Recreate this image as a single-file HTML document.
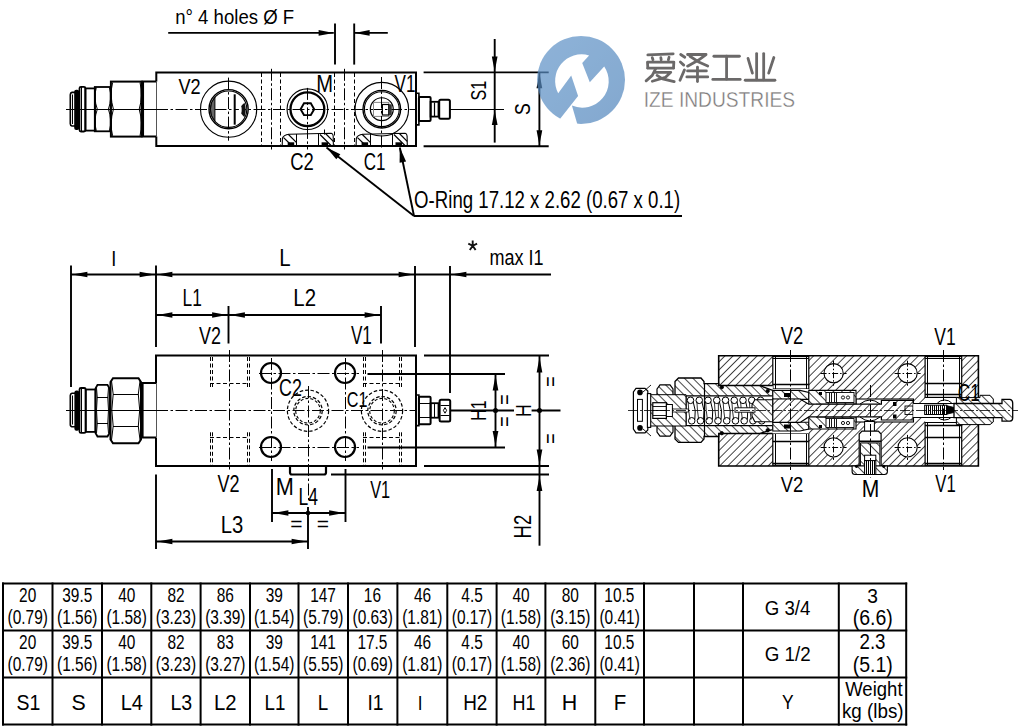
<!DOCTYPE html><html><head><meta charset="utf-8"><style>html,body{margin:0;padding:0;background:#fff;width:1022px;height:727px;overflow:hidden}svg{display:block;font-family:"Liberation Sans",sans-serif}</style></head><body><svg width="1022" height="727" viewBox="0 0 1022 727" font-family="Liberation Sans, sans-serif"><defs>
<pattern id="hatchA" patternUnits="userSpaceOnUse" width="5.7" height="5.7" patternTransform="rotate(45)">
<rect width="5.7" height="5.7" fill="#fff"/><line x1="0" y1="0" x2="0" y2="5.7" stroke="#000" stroke-width="1.45"/></pattern>
<pattern id="hatchB" patternUnits="userSpaceOnUse" width="6" height="6" patternTransform="rotate(-45)">
<rect width="6" height="6" fill="#fff"/><line x1="0" y1="0" x2="0" y2="6" stroke="#000" stroke-width="1.45"/></pattern>
<pattern id="hatchV" patternUnits="userSpaceOnUse" width="2" height="2">
<rect width="2" height="2" fill="#fff"/><line x1="0.5" y1="0" x2="0.5" y2="2" stroke="#000" stroke-width="1"/></pattern>
<linearGradient id="lg" x1="0" y1="0" x2="1" y2="1"><stop offset="0" stop-color="#5f93c8"/><stop offset="1" stop-color="#4f84bb"/></linearGradient>
</defs><rect width="1022" height="727" fill="#fff"/><path d="M156.3,81.6 L156.3,72.4 L416,72.4 L416,146 L156.3,146 L156.3,136.6" stroke="#000" stroke-width="2" fill="none" />
<line x1="156.5" y1="81.6" x2="156.5" y2="136.6" stroke="#555" stroke-width="1" stroke-linecap="butt"/>
<line x1="66" y1="109.5" x2="156" y2="109.5" stroke="#000" stroke-width="1" stroke-linecap="butt"/>
<line x1="156" y1="109.5" x2="416" y2="109.5" stroke="#000" stroke-width="1" stroke-dasharray="12 2.5 2.5 2.5" stroke-linecap="butt"/>
<line x1="450" y1="109.5" x2="504" y2="109.5" stroke="#000" stroke-width="1" stroke-linecap="butt"/>
<path d="M141.5,81.6 L156.3,81.6 M141.5,136.6 L156.3,136.6" stroke="#000" stroke-width="2" fill="none" />
<line x1="142.8" y1="81.6" x2="142.8" y2="136.6" stroke="#000" stroke-width="2.5" stroke-linecap="butt"/>
<rect x="110.9" y="81.6" width="30.60" height="55.00" stroke="#000" stroke-width="2" fill="none"/>
<path d="M112.6,82.5 Q109.39999999999999,95.5 113.39999999999999,109.2 Q109.39999999999999,123 112.6,135.8" stroke="#000" stroke-width="1" fill="none" />
<path d="M140,82.5 Q143.2,95.5 139.2,109.2 Q143.2,123 140,135.8" stroke="#000" stroke-width="1" fill="none" />
<rect x="94.8" y="87" width="15.90" height="44.30" stroke="#000" stroke-width="1.8" fill="none"/>
<path d="M96.3,87.5 Q93.3,98 97.3,109.2 Q93.3,120.5 96.3,130.8" stroke="#000" stroke-width="1" fill="none" />
<path d="M109.4,87.5 Q112.4,98 108.4,109.2 Q112.4,120.5 109.4,130.8" stroke="#000" stroke-width="1" fill="none" />
<rect x="85.4" y="88.4" width="9.60" height="42.20" stroke="#000" stroke-width="1.8" fill="none"/>
<rect x="79.5" y="86.8" width="5.90" height="44.70" stroke="#000" stroke-width="1.8" fill="none" rx="1.5"/>
<path d="M79.5,92.4 L72,92.4 Q70.3,92.8 70.3,94.8 L70.3,123.8 Q70.3,125.8 72,126 L79.5,126" stroke="#000" stroke-width="1.6" fill="none" />
<rect x="74.2" y="89.8" width="5" height="40.2" rx="2" fill="#000"/>
<line x1="72.5" y1="94.5" x2="72.5" y2="124" stroke="#000" stroke-width="1" stroke-linecap="butt"/>
<line x1="81.5" y1="87" x2="81.5" y2="131.3" stroke="#000" stroke-width="1" stroke-linecap="butt"/>
<path d="M416,93.3 L418.9,93.3 L418.9,124.9 L416,124.9" stroke="#000" stroke-width="1.6" fill="none" />
<rect x="418.9" y="97" width="11.70" height="24.10" stroke="#000" stroke-width="2" fill="none" rx="1"/>
<rect x="430.6" y="101.8" width="7.90" height="14.80" stroke="#000" stroke-width="1.8" fill="none"/>
<line x1="434.5" y1="102.5" x2="434.5" y2="116" stroke="#000" stroke-width="1.2" stroke-linecap="butt"/>
<rect x="439.2" y="99.8" width="10.70" height="18.90" stroke="#000" stroke-width="2" fill="none" rx="1.5"/>
<circle cx="228.6" cy="109.2" r="28.1" stroke="#000" stroke-width="1.1" fill="none"/>
<circle cx="228.6" cy="109.2" r="19.6" stroke="#000" stroke-width="1.4" fill="none"/>
<circle cx="228.6" cy="109.2" r="18.2" stroke="#000" stroke-width="1.1" fill="none"/>
<line x1="234.7" y1="94.3" x2="234.7" y2="124.7" stroke="#000" stroke-width="2" stroke-linecap="butt"/>
<path d="M214.9,97.3 A18.2 18.2 0 0 0 214.9,121.2 Z" stroke="#000" stroke-width="1" fill="#666" />
<path d="M244.5,102.8 Q235.5,109.5 244.5,117.2 Q247,109.5 244.5,102.8 Z" stroke="#000" stroke-width="0" fill="#111" />
<ellipse cx="240.3" cy="109.8" rx="1.4" ry="4" fill="#fff"/>
<line x1="228.5" y1="77.6" x2="228.5" y2="140.7" stroke="#000" stroke-width="1" stroke-dasharray="12 2.5 2.5 2.5" stroke-linecap="butt"/>
<circle cx="307.4" cy="109.2" r="20.35" stroke="#000" stroke-width="1.1" fill="none"/>
<circle cx="307.4" cy="109.2" r="16.9" stroke="#000" stroke-width="2.3" fill="none"/>
<polygon points="314.20,109.20 310.80,115.09 304.00,115.09 300.60,109.20 304.00,103.31 310.80,103.31" stroke="#000" stroke-width="1.9" fill="none"/>
<line x1="307.5" y1="87.9" x2="307.5" y2="149.5" stroke="#000" stroke-width="1" stroke-dasharray="12 2.5 2.5 2.5" stroke-linecap="butt"/>
<circle cx="381.8" cy="109.2" r="26.8" stroke="#000" stroke-width="1.1" fill="none"/>
<circle cx="381.8" cy="109.2" r="18.8" stroke="#000" stroke-width="1.4" fill="none"/>
<circle cx="381.8" cy="109.2" r="17.4" stroke="#000" stroke-width="1.1" fill="none"/>
<circle cx="381.8" cy="109.2" r="11.45" stroke="#000" stroke-width="1.2" fill="none"/>
<rect x="373.5" y="102.4" width="15.3" height="14" fill="none" stroke="#888" stroke-width="1"/>
<rect x="382.4" y="104.5" width="6.40" height="10.50" stroke="#000" stroke-width="1.2" fill="none"/>
<rect x="388.8" y="104.3" width="3" height="10.9" fill="#333"/>
<line x1="381.5" y1="77" x2="381.5" y2="150" stroke="#000" stroke-width="1" stroke-dasharray="12 2.5 2.5 2.5" stroke-linecap="butt"/>
<line x1="261.5" y1="73" x2="261.5" y2="145.5" stroke="#000" stroke-width="1" stroke-dasharray="4 2.5" stroke-linecap="butt"/>
<line x1="280.5" y1="73" x2="280.5" y2="145.5" stroke="#000" stroke-width="1" stroke-dasharray="4 2.5" stroke-linecap="butt"/>
<line x1="334.5" y1="73" x2="334.5" y2="145.5" stroke="#000" stroke-width="1" stroke-dasharray="4 2.5" stroke-linecap="butt"/>
<line x1="354.5" y1="73" x2="354.5" y2="145.5" stroke="#000" stroke-width="1" stroke-dasharray="4 2.5" stroke-linecap="butt"/>
<line x1="271.5" y1="68.8" x2="271.5" y2="149.5" stroke="#000" stroke-width="1" stroke-dasharray="12 2.5 2.5 2.5" stroke-linecap="butt"/>
<line x1="344.5" y1="68.8" x2="344.5" y2="149.5" stroke="#000" stroke-width="1" stroke-dasharray="12 2.5 2.5 2.5" stroke-linecap="butt"/>
<path d="M282.2,146 L282.4,138.5 Q283.5,134.6 289,134.2 L331.3,133.2 Q333,133.5 333.2,136 L333.4,146" stroke="#000" stroke-width="1.1" fill="none" />
<line x1="296.5" y1="134" x2="296.5" y2="146" stroke="#000" stroke-width="1" stroke-linecap="butt"/>
<line x1="318.5" y1="133.6" x2="318.5" y2="146" stroke="#000" stroke-width="1" stroke-linecap="butt"/>
<line x1="283.6" y1="137.6" x2="291.5" y2="145.3" stroke="#000" stroke-width="1.2" stroke-linecap="butt"/>
<line x1="288.2" y1="134.3" x2="296.6" y2="142.6" stroke="#000" stroke-width="1.2" stroke-linecap="butt"/>
<line x1="320" y1="134.5" x2="331" y2="145.5" stroke="#000" stroke-width="1.2" stroke-linecap="butt"/>
<line x1="325.5" y1="133.5" x2="333.3" y2="141.3" stroke="#000" stroke-width="1.2" stroke-linecap="butt"/>
<rect x="287.7" y="142.3" width="6.5" height="3.2" fill="#000"/>
<rect x="321.6" y="142.3" width="6.5" height="3.2" fill="#000"/>
<path d="M356.1,146 L356.29999999999995,138.5 Q357.4,134.6 362.9,134.2 L405.20000000000005,133.2 Q406.9,133.5 407.1,136 L407.29999999999995,146" stroke="#000" stroke-width="1.1" fill="none" />
<line x1="370.5" y1="134" x2="370.5" y2="146" stroke="#000" stroke-width="1" stroke-linecap="butt"/>
<line x1="392.5" y1="133.6" x2="392.5" y2="146" stroke="#000" stroke-width="1" stroke-linecap="butt"/>
<line x1="357.5" y1="137.6" x2="365.4" y2="145.3" stroke="#000" stroke-width="1.2" stroke-linecap="butt"/>
<line x1="362.1" y1="134.3" x2="370.5" y2="142.6" stroke="#000" stroke-width="1.2" stroke-linecap="butt"/>
<line x1="393.9" y1="134.5" x2="404.9" y2="145.5" stroke="#000" stroke-width="1.2" stroke-linecap="butt"/>
<line x1="399.4" y1="133.5" x2="407.20000000000005" y2="141.3" stroke="#000" stroke-width="1.2" stroke-linecap="butt"/>
<rect x="361.6" y="142.3" width="6.5" height="3.2" fill="#000"/>
<rect x="395.5" y="142.3" width="6.5" height="3.2" fill="#000"/>
<line x1="324.5" y1="129.5" x2="324.5" y2="134.6" stroke="#000" stroke-width="1" stroke-linecap="butt"/>
<line x1="168.2" y1="32.9" x2="333.8" y2="32.9" stroke="#000" stroke-width="1.9" stroke-linecap="butt"/>
<polygon points="333.60,32.90 318.60,35.75 318.60,30.05" fill="#000"/>
<line x1="335" y1="23.5" x2="335" y2="64.6" stroke="#000" stroke-width="1.9" stroke-linecap="butt"/>
<line x1="354.2" y1="23.5" x2="354.2" y2="64.6" stroke="#000" stroke-width="1.9" stroke-linecap="butt"/>
<line x1="354.2" y1="32.9" x2="387.8" y2="32.9" stroke="#000" stroke-width="1.9" stroke-linecap="butt"/>
<polygon points="354.60,32.90 369.60,30.05 369.60,35.75" fill="#000"/>
<line x1="423.6" y1="72.4" x2="548.7" y2="72.4" stroke="#000" stroke-width="1.9" stroke-linecap="butt"/>
<line x1="423.6" y1="146.2" x2="548.7" y2="146.2" stroke="#000" stroke-width="1.9" stroke-linecap="butt"/>
<line x1="494.7" y1="39" x2="494.7" y2="142.6" stroke="#000" stroke-width="1.9" stroke-linecap="butt"/>
<polygon points="494.70,71.50 491.85,56.50 497.55,56.50" fill="#000"/>
<polygon points="494.70,110.10 497.55,125.10 491.85,125.10" fill="#000"/>
<line x1="539.4" y1="72.4" x2="539.4" y2="146.2" stroke="#000" stroke-width="1.9" stroke-linecap="butt"/>
<polygon points="539.40,73.30 542.25,88.30 536.55,88.30" fill="#000"/>
<polygon points="539.40,145.30 536.55,130.30 542.25,130.30" fill="#000"/>
<line x1="326.5" y1="147.5" x2="414" y2="216" stroke="#000" stroke-width="1.9" stroke-linecap="butt"/>
<polygon points="326.50,147.50 340.35,154.15 336.28,159.34" fill="#000"/>
<line x1="399.8" y1="147.5" x2="414" y2="216" stroke="#000" stroke-width="1.9" stroke-linecap="butt"/>
<polygon points="399.80,147.50 406.08,161.52 399.61,162.86" fill="#000"/>
<line x1="414" y1="216" x2="682" y2="216" stroke="#000" stroke-width="1.9" stroke-linecap="butt"/>
<text x="175.17" y="23.50" font-size="21.11" textLength="118.98" lengthAdjust="spacingAndGlyphs" fill="#000" >n° 4 holes Ø F</text>
<text x="178.52" y="94.40" font-size="22.63" textLength="22.19" lengthAdjust="spacingAndGlyphs" fill="#000" >V2</text>
<text x="316.34" y="91.50" font-size="23.40" textLength="16.81" lengthAdjust="spacingAndGlyphs" fill="#000" >M</text>
<text x="394.52" y="91.50" font-size="23.40" textLength="20.91" lengthAdjust="spacingAndGlyphs" fill="#000" >V1</text>
<text x="290.26" y="170.20" font-size="24.35" textLength="23.56" lengthAdjust="spacingAndGlyphs" fill="#000" >C2</text>
<text x="363.64" y="170.20" font-size="24.35" textLength="21.69" lengthAdjust="spacingAndGlyphs" fill="#000" >C1</text>
<text x="414.12" y="207.50" font-size="24.15" textLength="266.04" lengthAdjust="spacingAndGlyphs" fill="#000" >O-Ring 17.12 x 2.62 (0.67 x 0.1)</text>
<g transform="translate(477.75,90.65) rotate(-90)"><text x="-9.78" y="7.75" font-size="22.50" textLength="19.61" lengthAdjust="spacingAndGlyphs" fill="#000" >S1</text></g>
<g transform="translate(522.8,109.2) rotate(-90)"><text x="-5.88" y="7.40" font-size="21.50" textLength="11.76" lengthAdjust="spacingAndGlyphs" fill="#000" >S</text></g>
<path d="M156,383 L156,355.5 L416,355.5 L416,466 L156,466 L156,437.5" stroke="#000" stroke-width="2" fill="none" />
<line x1="156.5" y1="383" x2="156.5" y2="437.5" stroke="#555" stroke-width="1" stroke-linecap="butt"/>
<line x1="66" y1="410.5" x2="156" y2="410.5" stroke="#000" stroke-width="1" stroke-linecap="butt"/>
<line x1="156" y1="410.5" x2="416" y2="410.5" stroke="#000" stroke-width="1" stroke-dasharray="12 2.5 2.5 2.5" stroke-linecap="butt"/>
<line x1="450" y1="410.5" x2="514" y2="410.5" stroke="#000" stroke-width="2" stroke-linecap="butt"/>
<line x1="531.6" y1="410.5" x2="560.5" y2="410.5" stroke="#000" stroke-width="2" stroke-linecap="butt"/>
<path d="M141,383 L156,383 M141,437.5 L156,437.5" stroke="#000" stroke-width="2" fill="none" />
<line x1="142.5" y1="383" x2="142.5" y2="437.5" stroke="#000" stroke-width="2.2" stroke-linecap="butt"/>
<path d="M110.5,382 L113,378.2 L138.5,378.2 L141,382 L141,439.5 L138.5,443.2 L113,443.2 L110.5,439.5 Z" stroke="#000" stroke-width="2" fill="none" />
<line x1="113" y1="394.5" x2="138.5" y2="394.5" stroke="#000" stroke-width="1" stroke-linecap="butt"/>
<line x1="113" y1="426.5" x2="138.5" y2="426.5" stroke="#000" stroke-width="1" stroke-linecap="butt"/>
<path d="M111.5,381 L113.2,394.2 L111.8,410 L113.2,426.2 L111.5,440 M140,381 L138.3,394.2 L139.7,410 L138.3,426.2 L140,440" stroke="#000" stroke-width="1" fill="none" />
<path d="M95.5,388.5 L97.5,384.9 L107.5,384.9 L109.5,388.5 L109.5,433 L107.5,436.5 L97.5,436.5 L95.5,433 Z" stroke="#000" stroke-width="1.8" fill="none" />
<line x1="97" y1="397.5" x2="108" y2="397.5" stroke="#000" stroke-width="1" stroke-linecap="butt"/>
<line x1="97" y1="423.5" x2="108" y2="423.5" stroke="#000" stroke-width="1" stroke-linecap="butt"/>
<path d="M96.5,388 L97.3,397.3 L96.5,410 L97.3,423.6 L96.5,433 M108.5,388 L107.7,397.3 L108.5,410 L107.7,423.6 L108.5,433" stroke="#000" stroke-width="0.9" fill="none" />
<rect x="85.7" y="389.5" width="9.80" height="42.40" stroke="#000" stroke-width="1.8" fill="none"/>
<rect x="79.5" y="388" width="6.20" height="44.90" stroke="#000" stroke-width="1.8" fill="none" rx="1.5"/>
<path d="M79.5,393.2 L72,393.2 Q70.3,393.6 70.3,395.6 L70.3,424.6 Q70.3,426.6 72,426.7 L79.5,426.7" stroke="#000" stroke-width="1.6" fill="none" />
<rect x="74.4" y="390.6" width="4.8" height="40.2" rx="2" fill="#000"/>
<line x1="72.5" y1="395.5" x2="72.5" y2="424.5" stroke="#000" stroke-width="1" stroke-linecap="butt"/>
<line x1="81.5" y1="388" x2="81.5" y2="433" stroke="#000" stroke-width="1" stroke-linecap="butt"/>
<path d="M416,395 L418.9,395 L418.9,425.6 L416,425.6" stroke="#000" stroke-width="1.6" fill="none" />
<rect x="418.9" y="396.7" width="11.70" height="27.50" stroke="#000" stroke-width="2" fill="none" rx="1"/>
<line x1="419.5" y1="403.5" x2="430" y2="403.5" stroke="#000" stroke-width="1" stroke-linecap="butt"/>
<line x1="419.5" y1="417.5" x2="430" y2="417.5" stroke="#000" stroke-width="1" stroke-linecap="butt"/>
<rect x="430.6" y="403.2" width="7.90" height="14.50" stroke="#000" stroke-width="1.8" fill="none"/>
<line x1="434.5" y1="404" x2="434.5" y2="417" stroke="#000" stroke-width="1" stroke-linecap="butt"/>
<rect x="439.6" y="399.8" width="10.60" height="21.70" stroke="#000" stroke-width="2" fill="none" rx="1.5"/>
<line x1="440.5" y1="405.5" x2="449.5" y2="405.5" stroke="#000" stroke-width="1" stroke-linecap="butt"/>
<line x1="440.5" y1="415.5" x2="449.5" y2="415.5" stroke="#000" stroke-width="1" stroke-linecap="butt"/>
<path d="M445,407.6 L446.6,410.4 L445,413.2 L443.4,410.4 Z" stroke="#000" stroke-width="1" fill="none" />
<line x1="210.5" y1="357" x2="210.5" y2="388.6" stroke="#000" stroke-width="1" stroke-dasharray="4 2.5" stroke-linecap="butt"/>
<line x1="210.5" y1="432.3" x2="210.5" y2="465" stroke="#000" stroke-width="1" stroke-dasharray="4 2.5" stroke-linecap="butt"/>
<line x1="212.5" y1="357" x2="212.5" y2="388.6" stroke="#000" stroke-width="1" stroke-dasharray="4 2.5" stroke-linecap="butt"/>
<line x1="212.5" y1="432.3" x2="212.5" y2="465" stroke="#000" stroke-width="1" stroke-dasharray="4 2.5" stroke-linecap="butt"/>
<line x1="247.5" y1="357" x2="247.5" y2="388.6" stroke="#000" stroke-width="1" stroke-dasharray="4 2.5" stroke-linecap="butt"/>
<line x1="247.5" y1="432.3" x2="247.5" y2="465" stroke="#000" stroke-width="1" stroke-dasharray="4 2.5" stroke-linecap="butt"/>
<line x1="249.5" y1="357" x2="249.5" y2="388.6" stroke="#000" stroke-width="1" stroke-dasharray="4 2.5" stroke-linecap="butt"/>
<line x1="249.5" y1="432.3" x2="249.5" y2="465" stroke="#000" stroke-width="1" stroke-dasharray="4 2.5" stroke-linecap="butt"/>
<line x1="210" y1="383.5" x2="249" y2="383.5" stroke="#000" stroke-width="1.2" stroke-dasharray="4 2.5" stroke-linecap="butt"/>
<line x1="210" y1="437.5" x2="249" y2="437.5" stroke="#000" stroke-width="1.2" stroke-dasharray="4 2.5" stroke-linecap="butt"/>
<line x1="229.5" y1="350" x2="229.5" y2="469.5" stroke="#000" stroke-width="1" stroke-dasharray="12 2.5 2.5 2.5" stroke-linecap="butt"/>
<line x1="363.5" y1="357" x2="363.5" y2="388.6" stroke="#000" stroke-width="1" stroke-dasharray="4 2.5" stroke-linecap="butt"/>
<line x1="363.5" y1="432.3" x2="363.5" y2="465" stroke="#000" stroke-width="1" stroke-dasharray="4 2.5" stroke-linecap="butt"/>
<line x1="365.5" y1="357" x2="365.5" y2="388.6" stroke="#000" stroke-width="1" stroke-dasharray="4 2.5" stroke-linecap="butt"/>
<line x1="365.5" y1="432.3" x2="365.5" y2="465" stroke="#000" stroke-width="1" stroke-dasharray="4 2.5" stroke-linecap="butt"/>
<line x1="399.5" y1="357" x2="399.5" y2="388.6" stroke="#000" stroke-width="1" stroke-dasharray="4 2.5" stroke-linecap="butt"/>
<line x1="399.5" y1="432.3" x2="399.5" y2="465" stroke="#000" stroke-width="1" stroke-dasharray="4 2.5" stroke-linecap="butt"/>
<line x1="401.5" y1="357" x2="401.5" y2="388.6" stroke="#000" stroke-width="1" stroke-dasharray="4 2.5" stroke-linecap="butt"/>
<line x1="401.5" y1="432.3" x2="401.5" y2="465" stroke="#000" stroke-width="1" stroke-dasharray="4 2.5" stroke-linecap="butt"/>
<line x1="363" y1="383.5" x2="401" y2="383.5" stroke="#000" stroke-width="1.2" stroke-dasharray="4 2.5" stroke-linecap="butt"/>
<line x1="363" y1="437.5" x2="401" y2="437.5" stroke="#000" stroke-width="1.2" stroke-dasharray="4 2.5" stroke-linecap="butt"/>
<line x1="382.5" y1="350" x2="382.5" y2="469.5" stroke="#000" stroke-width="1" stroke-dasharray="12 2.5 2.5 2.5" stroke-linecap="butt"/>
<circle cx="271" cy="373" r="10" stroke="#000" stroke-width="2.2" fill="none"/>
<circle cx="271" cy="447" r="10" stroke="#000" stroke-width="2.2" fill="none"/>
<circle cx="345" cy="373" r="10" stroke="#000" stroke-width="2.2" fill="none"/>
<circle cx="345" cy="447" r="10" stroke="#000" stroke-width="2.2" fill="none"/>
<line x1="259" y1="373.5" x2="359" y2="373.5" stroke="#000" stroke-width="1" stroke-dasharray="12 2.5 2.5 2.5" stroke-linecap="butt"/>
<line x1="259" y1="447.5" x2="359" y2="447.5" stroke="#000" stroke-width="1" stroke-dasharray="12 2.5 2.5 2.5" stroke-linecap="butt"/>
<line x1="271.5" y1="358" x2="271.5" y2="461" stroke="#000" stroke-width="1" stroke-dasharray="12 2.5 2.5 2.5" stroke-linecap="butt"/>
<line x1="345.5" y1="358" x2="345.5" y2="461" stroke="#000" stroke-width="1" stroke-dasharray="12 2.5 2.5 2.5" stroke-linecap="butt"/>
<circle cx="308" cy="410.7" r="20.6" stroke="#000" stroke-width="1.2" fill="none" stroke-dasharray="3.5 2"/>
<circle cx="308" cy="410.7" r="14.2" stroke="#000" stroke-width="1.2" fill="none" stroke-dasharray="3.5 2"/>
<circle cx="308" cy="410.7" r="12.3" stroke="#000" stroke-width="1.1" fill="none" stroke-dasharray="3 2"/>
<circle cx="382" cy="410.7" r="20.6" stroke="#000" stroke-width="1.2" fill="none" stroke-dasharray="3.5 2"/>
<circle cx="382" cy="410.7" r="14.2" stroke="#000" stroke-width="1.2" fill="none" stroke-dasharray="3.5 2"/>
<circle cx="382" cy="410.7" r="12.3" stroke="#000" stroke-width="1.1" fill="none" stroke-dasharray="3 2"/>
<line x1="308.5" y1="386" x2="308.5" y2="500" stroke="#000" stroke-width="1" stroke-dasharray="12 2.5 2.5 2.5" stroke-linecap="butt"/>
<path d="M290,466 L290,472.5 Q290,474.5 292,474.5 L324,474.5 Q326,474.5 326,472.5 L326,466" stroke="#000" stroke-width="2.2" fill="none" />
<line x1="71" y1="265.5" x2="71" y2="387" stroke="#000" stroke-width="1.9" stroke-linecap="butt"/>
<line x1="156" y1="265.5" x2="156" y2="347" stroke="#000" stroke-width="1.9" stroke-linecap="butt"/>
<line x1="156" y1="474.5" x2="156" y2="549" stroke="#000" stroke-width="1.9" stroke-linecap="butt"/>
<line x1="71" y1="274.5" x2="156" y2="274.5" stroke="#000" stroke-width="1.9" stroke-linecap="butt"/>
<polygon points="72.40,274.50 87.40,271.65 87.40,277.35" fill="#000"/>
<polygon points="154.60,274.50 139.60,277.35 139.60,271.65" fill="#000"/>
<line x1="156" y1="274.5" x2="415" y2="274.5" stroke="#000" stroke-width="1.9" stroke-linecap="butt"/>
<polygon points="157.40,274.50 172.40,271.65 172.40,277.35" fill="#000"/>
<polygon points="413.60,274.50 398.60,277.35 398.60,271.65" fill="#000"/>
<line x1="415" y1="266" x2="415" y2="347" stroke="#000" stroke-width="1.9" stroke-linecap="butt"/>
<line x1="450" y1="266" x2="450" y2="393" stroke="#000" stroke-width="1.9" stroke-linecap="butt"/>
<line x1="415" y1="274.5" x2="551" y2="274.5" stroke="#000" stroke-width="1.9" stroke-linecap="butt"/>
<polygon points="451.40,274.50 466.40,271.65 466.40,277.35" fill="#000"/>
<line x1="156" y1="315" x2="381" y2="315" stroke="#000" stroke-width="1.9" stroke-linecap="butt"/>
<polygon points="157.40,315.00 172.40,312.15 172.40,317.85" fill="#000"/>
<polygon points="227.10,315.00 212.10,317.85 212.10,312.15" fill="#000"/>
<polygon points="229.90,315.00 244.90,312.15 244.90,317.85" fill="#000"/>
<polygon points="379.60,315.00 364.60,317.85 364.60,312.15" fill="#000"/>
<line x1="228.5" y1="306" x2="228.5" y2="343.5" stroke="#000" stroke-width="1.9" stroke-linecap="butt"/>
<line x1="381" y1="306" x2="381" y2="343.5" stroke="#000" stroke-width="1.9" stroke-linecap="butt"/>
<line x1="424" y1="355.5" x2="549" y2="355.5" stroke="#000" stroke-width="1.9" stroke-linecap="butt"/>
<line x1="424" y1="466" x2="549" y2="466" stroke="#000" stroke-width="1.9" stroke-linecap="butt"/>
<line x1="331" y1="474.5" x2="549" y2="474.5" stroke="#000" stroke-width="1.9" stroke-linecap="butt"/>
<line x1="367.5" y1="374" x2="505" y2="374" stroke="#000" stroke-width="1.9" stroke-linecap="butt"/>
<line x1="367.5" y1="447.5" x2="505" y2="447.5" stroke="#000" stroke-width="1.9" stroke-linecap="butt"/>
<line x1="495.5" y1="374" x2="495.5" y2="447.5" stroke="#000" stroke-width="1.9" stroke-linecap="butt"/>
<polygon points="495.50,375.40 498.35,390.40 492.65,390.40" fill="#000"/>
<polygon points="495.50,446.10 492.65,431.10 498.35,431.10" fill="#000"/>
<circle cx="495.5" cy="410.5" r="2.5" stroke="#000" stroke-width="0" fill="#000"/>
<line x1="539.5" y1="356" x2="539.5" y2="466" stroke="#000" stroke-width="1.9" stroke-linecap="butt"/>
<polygon points="539.50,357.40 542.35,372.40 536.65,372.40" fill="#000"/>
<polygon points="539.50,464.60 536.65,449.60 542.35,449.60" fill="#000"/>
<circle cx="539.5" cy="410.5" r="2.5" stroke="#000" stroke-width="0" fill="#000"/>
<line x1="539.5" y1="466" x2="539.5" y2="545.7" stroke="#000" stroke-width="1.9" stroke-linecap="butt"/>
<polygon points="539.50,475.90 542.35,490.90 536.65,490.90" fill="#000"/>
<line x1="272" y1="469" x2="272" y2="522" stroke="#000" stroke-width="1.9" stroke-linecap="butt"/>
<line x1="345.5" y1="469" x2="345.5" y2="522" stroke="#000" stroke-width="1.9" stroke-linecap="butt"/>
<line x1="272" y1="513" x2="345.5" y2="513" stroke="#000" stroke-width="1.9" stroke-linecap="butt"/>
<polygon points="273.40,513.00 288.40,510.15 288.40,515.85" fill="#000"/>
<polygon points="344.10,513.00 329.10,515.85 329.10,510.15" fill="#000"/>
<circle cx="308" cy="513" r="2.3" stroke="#000" stroke-width="0" fill="#000"/>
<line x1="308" y1="507" x2="308" y2="549" stroke="#000" stroke-width="1.9" stroke-linecap="butt"/>
<line x1="156" y1="541.5" x2="308" y2="541.5" stroke="#000" stroke-width="1.9" stroke-linecap="butt"/>
<polygon points="157.40,541.50 172.40,538.65 172.40,544.35" fill="#000"/>
<polygon points="306.60,541.50 291.60,544.35 291.60,538.65" fill="#000"/>
<text x="111.16" y="266.00" font-size="21.50" textLength="5.08" lengthAdjust="spacingAndGlyphs" fill="#000" >I</text>
<text x="279.33" y="266.00" font-size="24.13" textLength="11.35" lengthAdjust="spacingAndGlyphs" fill="#000" >L</text>
<path d="M472.7,240.6 L472.7,245.8 M468.3,243.6 L472.7,245.8 L477.1,243.6 M469.8,250 L472.7,245.8 L475.6,250" stroke="#111" stroke-width="1.9" fill="none" />
<text x="489.50" y="265.20" font-size="22.97" textLength="54.08" lengthAdjust="spacingAndGlyphs" fill="#000" >max I1</text>
<text x="182.58" y="306.00" font-size="24.13" textLength="19.27" lengthAdjust="spacingAndGlyphs" fill="#000" >L1</text>
<text x="293.33" y="306.00" font-size="23.77" textLength="22.70" lengthAdjust="spacingAndGlyphs" fill="#000" >L2</text>
<text x="198.92" y="344.00" font-size="24.49" textLength="21.98" lengthAdjust="spacingAndGlyphs" fill="#000" >V2</text>
<text x="350.92" y="344.00" font-size="24.86" textLength="20.91" lengthAdjust="spacingAndGlyphs" fill="#000" >V1</text>
<text x="279.09" y="396.00" font-size="23.77" textLength="22.80" lengthAdjust="spacingAndGlyphs" fill="#000" >C2</text>
<text x="346.78" y="406.90" font-size="22.77" textLength="20.71" lengthAdjust="spacingAndGlyphs" fill="#000" >C1</text>
<text x="217.42" y="492.30" font-size="23.92" textLength="22.09" lengthAdjust="spacingAndGlyphs" fill="#000" >V2</text>
<text x="275.72" y="494.50" font-size="24.13" textLength="18.06" lengthAdjust="spacingAndGlyphs" fill="#000" >M</text>
<text x="298.57" y="504.50" font-size="24.13" textLength="19.45" lengthAdjust="spacingAndGlyphs" fill="#000" >L4</text>
<text x="370.23" y="498.10" font-size="24.42" textLength="19.97" lengthAdjust="spacingAndGlyphs" fill="#000" >V1</text>
<text x="220.84" y="533.00" font-size="23.77" textLength="22.55" lengthAdjust="spacingAndGlyphs" fill="#000" >L3</text>
<text x="290.17" y="531.00" font-size="21.00" textLength="12.26" lengthAdjust="spacingAndGlyphs" fill="#000" >=</text>
<text x="316.67" y="531.00" font-size="21.00" textLength="12.26" lengthAdjust="spacingAndGlyphs" fill="#000" >=</text>
<g transform="translate(478,410.2) rotate(-90)"><text x="-10.46" y="7.74" font-size="22.50" textLength="20.39" lengthAdjust="spacingAndGlyphs" fill="#000" >H1</text></g>
<g transform="translate(505.4,399.6) rotate(-90)"><text x="-5.14" y="7.08" font-size="21.50" textLength="10.30" lengthAdjust="spacingAndGlyphs" fill="#000" >=</text></g>
<g transform="translate(505.4,421.5) rotate(-90)"><text x="-5.14" y="7.08" font-size="21.50" textLength="10.30" lengthAdjust="spacingAndGlyphs" fill="#000" >=</text></g>
<g transform="translate(523.2,410.6) rotate(-90)"><text x="-6.37" y="7.40" font-size="21.50" textLength="12.73" lengthAdjust="spacingAndGlyphs" fill="#000" >H</text></g>
<g transform="translate(551,381.5) rotate(-90)"><text x="-5.14" y="7.08" font-size="21.50" textLength="10.30" lengthAdjust="spacingAndGlyphs" fill="#000" >=</text></g>
<g transform="translate(551,438.5) rotate(-90)"><text x="-5.14" y="7.08" font-size="21.50" textLength="10.30" lengthAdjust="spacingAndGlyphs" fill="#000" >=</text></g>
<g transform="translate(522.7,526.3) rotate(-90)"><text x="-12.12" y="8.03" font-size="23.00" textLength="23.65" lengthAdjust="spacingAndGlyphs" fill="#000" >H2</text></g>
<line x1="3" y1="582.5" x2="3" y2="725.6" stroke="#000" stroke-width="2" stroke-linecap="butt"/>
<line x1="52.5" y1="582.5" x2="52.5" y2="725.6" stroke="#000" stroke-width="2" stroke-linecap="butt"/>
<line x1="102" y1="582.5" x2="102" y2="725.6" stroke="#000" stroke-width="2" stroke-linecap="butt"/>
<line x1="151.3" y1="582.5" x2="151.3" y2="725.6" stroke="#000" stroke-width="2" stroke-linecap="butt"/>
<line x1="200.6" y1="582.5" x2="200.6" y2="725.6" stroke="#000" stroke-width="2" stroke-linecap="butt"/>
<line x1="250" y1="582.5" x2="250" y2="725.6" stroke="#000" stroke-width="2" stroke-linecap="butt"/>
<line x1="298.5" y1="582.5" x2="298.5" y2="725.6" stroke="#000" stroke-width="2" stroke-linecap="butt"/>
<line x1="348" y1="582.5" x2="348" y2="725.6" stroke="#000" stroke-width="2" stroke-linecap="butt"/>
<line x1="397.4" y1="582.5" x2="397.4" y2="725.6" stroke="#000" stroke-width="2" stroke-linecap="butt"/>
<line x1="447.3" y1="582.5" x2="447.3" y2="725.6" stroke="#000" stroke-width="2" stroke-linecap="butt"/>
<line x1="496.6" y1="582.5" x2="496.6" y2="725.6" stroke="#000" stroke-width="2" stroke-linecap="butt"/>
<line x1="545.4" y1="582.5" x2="545.4" y2="725.6" stroke="#000" stroke-width="2" stroke-linecap="butt"/>
<line x1="595.3" y1="582.5" x2="595.3" y2="725.6" stroke="#000" stroke-width="2" stroke-linecap="butt"/>
<line x1="644" y1="582.5" x2="644" y2="725.6" stroke="#000" stroke-width="2" stroke-linecap="butt"/>
<line x1="694" y1="582.5" x2="694" y2="725.6" stroke="#000" stroke-width="2" stroke-linecap="butt"/>
<line x1="743" y1="582.5" x2="743" y2="725.6" stroke="#000" stroke-width="2" stroke-linecap="butt"/>
<line x1="838.8" y1="582.5" x2="838.8" y2="725.6" stroke="#000" stroke-width="2" stroke-linecap="butt"/>
<line x1="906.2" y1="582.5" x2="906.2" y2="725.6" stroke="#000" stroke-width="2" stroke-linecap="butt"/>
<line x1="2" y1="583.5" x2="907.2" y2="583.5" stroke="#000" stroke-width="2" stroke-linecap="butt"/>
<line x1="2" y1="630.4" x2="907.2" y2="630.4" stroke="#000" stroke-width="2" stroke-linecap="butt"/>
<line x1="2" y1="677.4" x2="907.2" y2="677.4" stroke="#000" stroke-width="2" stroke-linecap="butt"/>
<line x1="2" y1="724.6" x2="907.2" y2="724.6" stroke="#000" stroke-width="2" stroke-linecap="butt"/>
<text x="19.08" y="601.80" font-size="19.30" textLength="17.17" lengthAdjust="spacingAndGlyphs" fill="#000" >20</text>
<text x="7.58" y="623.70" font-size="19.30" textLength="40.33" lengthAdjust="spacingAndGlyphs" fill="#000" >(0.79)</text>
<text x="19.08" y="648.60" font-size="19.30" textLength="17.17" lengthAdjust="spacingAndGlyphs" fill="#000" >20</text>
<text x="7.58" y="670.50" font-size="19.30" textLength="40.33" lengthAdjust="spacingAndGlyphs" fill="#000" >(0.79)</text>
<text x="62.25" y="601.80" font-size="19.30" textLength="30.05" lengthAdjust="spacingAndGlyphs" fill="#000" >39.5</text>
<text x="57.08" y="623.70" font-size="19.30" textLength="40.33" lengthAdjust="spacingAndGlyphs" fill="#000" >(1.56)</text>
<text x="62.25" y="648.60" font-size="19.30" textLength="30.05" lengthAdjust="spacingAndGlyphs" fill="#000" >39.5</text>
<text x="57.08" y="670.50" font-size="19.30" textLength="40.33" lengthAdjust="spacingAndGlyphs" fill="#000" >(1.56)</text>
<text x="118.19" y="601.80" font-size="19.30" textLength="17.17" lengthAdjust="spacingAndGlyphs" fill="#000" >40</text>
<text x="106.48" y="623.70" font-size="19.30" textLength="40.33" lengthAdjust="spacingAndGlyphs" fill="#000" >(1.58)</text>
<text x="118.19" y="648.60" font-size="19.30" textLength="17.17" lengthAdjust="spacingAndGlyphs" fill="#000" >40</text>
<text x="106.48" y="670.50" font-size="19.30" textLength="40.33" lengthAdjust="spacingAndGlyphs" fill="#000" >(1.58)</text>
<text x="167.42" y="601.80" font-size="19.30" textLength="17.17" lengthAdjust="spacingAndGlyphs" fill="#000" >82</text>
<text x="155.78" y="623.70" font-size="19.30" textLength="40.33" lengthAdjust="spacingAndGlyphs" fill="#000" >(3.23)</text>
<text x="167.42" y="648.60" font-size="19.30" textLength="17.17" lengthAdjust="spacingAndGlyphs" fill="#000" >82</text>
<text x="155.78" y="670.50" font-size="19.30" textLength="40.33" lengthAdjust="spacingAndGlyphs" fill="#000" >(3.23)</text>
<text x="216.72" y="601.80" font-size="19.30" textLength="17.17" lengthAdjust="spacingAndGlyphs" fill="#000" >86</text>
<text x="205.13" y="623.70" font-size="19.30" textLength="40.33" lengthAdjust="spacingAndGlyphs" fill="#000" >(3.39)</text>
<text x="216.72" y="648.60" font-size="19.30" textLength="17.17" lengthAdjust="spacingAndGlyphs" fill="#000" >83</text>
<text x="205.13" y="670.50" font-size="19.30" textLength="40.33" lengthAdjust="spacingAndGlyphs" fill="#000" >(3.27)</text>
<text x="265.73" y="601.80" font-size="19.30" textLength="17.17" lengthAdjust="spacingAndGlyphs" fill="#000" >39</text>
<text x="254.08" y="623.70" font-size="19.30" textLength="40.33" lengthAdjust="spacingAndGlyphs" fill="#000" >(1.54)</text>
<text x="265.73" y="648.60" font-size="19.30" textLength="17.17" lengthAdjust="spacingAndGlyphs" fill="#000" >39</text>
<text x="254.08" y="670.50" font-size="19.30" textLength="40.33" lengthAdjust="spacingAndGlyphs" fill="#000" >(1.54)</text>
<text x="310.17" y="601.80" font-size="19.30" textLength="25.76" lengthAdjust="spacingAndGlyphs" fill="#000" >147</text>
<text x="303.08" y="623.70" font-size="19.30" textLength="40.33" lengthAdjust="spacingAndGlyphs" fill="#000" >(5.79)</text>
<text x="310.16" y="648.60" font-size="19.30" textLength="25.76" lengthAdjust="spacingAndGlyphs" fill="#000" >141</text>
<text x="303.08" y="670.50" font-size="19.30" textLength="40.33" lengthAdjust="spacingAndGlyphs" fill="#000" >(5.55)</text>
<text x="363.86" y="601.80" font-size="19.30" textLength="17.17" lengthAdjust="spacingAndGlyphs" fill="#000" >16</text>
<text x="352.53" y="623.70" font-size="19.30" textLength="40.33" lengthAdjust="spacingAndGlyphs" fill="#000" >(0.63)</text>
<text x="357.41" y="648.60" font-size="19.30" textLength="30.05" lengthAdjust="spacingAndGlyphs" fill="#000" >17.5</text>
<text x="352.53" y="670.50" font-size="19.30" textLength="40.33" lengthAdjust="spacingAndGlyphs" fill="#000" >(0.69)</text>
<text x="413.93" y="601.80" font-size="19.30" textLength="17.17" lengthAdjust="spacingAndGlyphs" fill="#000" >46</text>
<text x="402.18" y="623.70" font-size="19.30" textLength="40.33" lengthAdjust="spacingAndGlyphs" fill="#000" >(1.81)</text>
<text x="413.93" y="648.60" font-size="19.30" textLength="17.17" lengthAdjust="spacingAndGlyphs" fill="#000" >46</text>
<text x="402.18" y="670.50" font-size="19.30" textLength="40.33" lengthAdjust="spacingAndGlyphs" fill="#000" >(1.81)</text>
<text x="461.37" y="601.80" font-size="19.30" textLength="21.46" lengthAdjust="spacingAndGlyphs" fill="#000" >4.5</text>
<text x="451.78" y="623.70" font-size="19.30" textLength="40.33" lengthAdjust="spacingAndGlyphs" fill="#000" >(0.17)</text>
<text x="461.37" y="648.60" font-size="19.30" textLength="21.46" lengthAdjust="spacingAndGlyphs" fill="#000" >4.5</text>
<text x="451.78" y="670.50" font-size="19.30" textLength="40.33" lengthAdjust="spacingAndGlyphs" fill="#000" >(0.17)</text>
<text x="512.54" y="601.80" font-size="19.30" textLength="17.17" lengthAdjust="spacingAndGlyphs" fill="#000" >40</text>
<text x="500.83" y="623.70" font-size="19.30" textLength="40.33" lengthAdjust="spacingAndGlyphs" fill="#000" >(1.58)</text>
<text x="512.54" y="648.60" font-size="19.30" textLength="17.17" lengthAdjust="spacingAndGlyphs" fill="#000" >40</text>
<text x="500.83" y="670.50" font-size="19.30" textLength="40.33" lengthAdjust="spacingAndGlyphs" fill="#000" >(1.58)</text>
<text x="561.73" y="601.80" font-size="19.30" textLength="17.17" lengthAdjust="spacingAndGlyphs" fill="#000" >80</text>
<text x="550.18" y="623.70" font-size="19.30" textLength="40.33" lengthAdjust="spacingAndGlyphs" fill="#000" >(3.15)</text>
<text x="561.67" y="648.60" font-size="19.30" textLength="17.17" lengthAdjust="spacingAndGlyphs" fill="#000" >60</text>
<text x="550.18" y="670.50" font-size="19.30" textLength="40.33" lengthAdjust="spacingAndGlyphs" fill="#000" >(2.36)</text>
<text x="604.36" y="601.80" font-size="19.30" textLength="30.05" lengthAdjust="spacingAndGlyphs" fill="#000" >10.5</text>
<text x="599.48" y="623.70" font-size="19.30" textLength="40.33" lengthAdjust="spacingAndGlyphs" fill="#000" >(0.41)</text>
<text x="604.36" y="648.60" font-size="19.30" textLength="30.05" lengthAdjust="spacingAndGlyphs" fill="#000" >10.5</text>
<text x="599.48" y="670.50" font-size="19.30" textLength="40.33" lengthAdjust="spacingAndGlyphs" fill="#000" >(0.41)</text>
<text x="16.42" y="709.50" font-size="22.20" textLength="23.84" lengthAdjust="spacingAndGlyphs" fill="#000" >S1</text>
<text x="71.53" y="709.50" font-size="22.20" textLength="14.25" lengthAdjust="spacingAndGlyphs" fill="#000" >S</text>
<text x="120.76" y="709.50" font-size="22.53" textLength="22.22" lengthAdjust="spacingAndGlyphs" fill="#000" >L4</text>
<text x="170.39" y="709.50" font-size="22.20" textLength="21.77" lengthAdjust="spacingAndGlyphs" fill="#000" >L3</text>
<text x="213.93" y="709.50" font-size="22.20" textLength="22.59" lengthAdjust="spacingAndGlyphs" fill="#000" >L2</text>
<text x="264.46" y="709.50" font-size="22.53" textLength="20.85" lengthAdjust="spacingAndGlyphs" fill="#000" >L1</text>
<text x="317.86" y="709.50" font-size="22.53" textLength="10.47" lengthAdjust="spacingAndGlyphs" fill="#000" >L</text>
<text x="367.53" y="709.50" font-size="22.53" textLength="16.01" lengthAdjust="spacingAndGlyphs" fill="#000" >I1</text>
<text x="417.64" y="709.50" font-size="20.00" textLength="4.72" lengthAdjust="spacingAndGlyphs" fill="#000" >I</text>
<text x="463.15" y="709.50" font-size="22.20" textLength="24.21" lengthAdjust="spacingAndGlyphs" fill="#000" >H2</text>
<text x="512.53" y="709.50" font-size="22.53" textLength="22.95" lengthAdjust="spacingAndGlyphs" fill="#000" >H1</text>
<text x="561.74" y="709.50" font-size="22.53" textLength="15.51" lengthAdjust="spacingAndGlyphs" fill="#000" >H</text>
<text x="613.72" y="709.50" font-size="22.53" textLength="12.50" lengthAdjust="spacingAndGlyphs" fill="#000" >F</text>
<text x="764.76" y="614.80" font-size="19.80" textLength="45.58" lengthAdjust="spacingAndGlyphs" fill="#000" >G 3/4</text>
<text x="764.75" y="661.30" font-size="19.80" textLength="45.99" lengthAdjust="spacingAndGlyphs" fill="#000" >G 1/2</text>
<text x="781.89" y="709.30" font-size="20.50" textLength="11.62" lengthAdjust="spacingAndGlyphs" fill="#000" >Y</text>
<text x="867.17" y="603.30" font-size="20.50" textLength="10.67" lengthAdjust="spacingAndGlyphs" fill="#000" >3</text>
<text x="852.69" y="624.50" font-size="22.00" textLength="40.12" lengthAdjust="spacingAndGlyphs" fill="#000" >(6.6)</text>
<text x="859.46" y="649.30" font-size="21.50" textLength="26.07" lengthAdjust="spacingAndGlyphs" fill="#000" >2.3</text>
<text x="852.69" y="671.90" font-size="22.00" textLength="40.12" lengthAdjust="spacingAndGlyphs" fill="#000" >(5.1)</text>
<text x="845.22" y="696.40" font-size="19.50" textLength="57.32" lengthAdjust="spacingAndGlyphs" fill="#000" >Weight</text>
<text x="841.93" y="718.30" font-size="19.50" textLength="61.63" lengthAdjust="spacingAndGlyphs" fill="#000" >kg (lbs)</text>
<path d="M718.7,355.7 L978.4,355.7 L978.4,466 L718.7,466 Z" fill="url(#hatchA)" stroke="#000" stroke-width="1.6"/>
<rect x="772.8" y="356.5" width="36.0" height="32.5" fill="#fff" stroke="#000" stroke-width="1.2"/>
<rect x="772.8" y="433.4" width="36.0" height="31.9" fill="#fff" stroke="#000" stroke-width="1.2"/>
<line x1="775.5" y1="357" x2="775.5" y2="389" stroke="#000" stroke-width="1" stroke-linecap="butt"/>
<line x1="775.5" y1="433.4" x2="775.5" y2="465" stroke="#000" stroke-width="1" stroke-linecap="butt"/>
<line x1="806.5" y1="357" x2="806.5" y2="389" stroke="#000" stroke-width="1" stroke-linecap="butt"/>
<line x1="806.5" y1="433.4" x2="806.5" y2="465" stroke="#000" stroke-width="1" stroke-linecap="butt"/>
<line x1="772.8" y1="384.5" x2="808.8" y2="384.5" stroke="#000" stroke-width="1.3" stroke-linecap="butt"/>
<line x1="772.8" y1="441.5" x2="808.8" y2="441.5" stroke="#000" stroke-width="1.3" stroke-linecap="butt"/>
<line x1="772.8" y1="463.5" x2="808.8" y2="463.5" stroke="#000" stroke-width="1.3" stroke-linecap="butt"/>
<line x1="772.8" y1="358.5" x2="808.8" y2="358.5" stroke="#000" stroke-width="1" stroke-linecap="butt"/>
<rect x="925.1" y="356.5" width="36.6" height="40.9" fill="#fff" stroke="#000" stroke-width="1.2"/>
<rect x="925.1" y="422.3" width="36.6" height="43.0" fill="#fff" stroke="#000" stroke-width="1.2"/>
<line x1="927.5" y1="357" x2="927.5" y2="397.4" stroke="#000" stroke-width="1" stroke-linecap="butt"/>
<line x1="927.5" y1="422.3" x2="927.5" y2="465" stroke="#000" stroke-width="1" stroke-linecap="butt"/>
<line x1="959.5" y1="357" x2="959.5" y2="397.4" stroke="#000" stroke-width="1" stroke-linecap="butt"/>
<line x1="959.5" y1="422.3" x2="959.5" y2="465" stroke="#000" stroke-width="1" stroke-linecap="butt"/>
<line x1="925.1" y1="383.5" x2="961.7" y2="383.5" stroke="#000" stroke-width="1.3" stroke-linecap="butt"/>
<line x1="925.1" y1="394.5" x2="961.7" y2="394.5" stroke="#000" stroke-width="1.3" stroke-linecap="butt"/>
<line x1="925.1" y1="425.5" x2="961.7" y2="425.5" stroke="#000" stroke-width="1.3" stroke-linecap="butt"/>
<line x1="925.1" y1="437.5" x2="961.7" y2="437.5" stroke="#000" stroke-width="1.3" stroke-linecap="butt"/>
<line x1="925.1" y1="463.5" x2="961.7" y2="463.5" stroke="#000" stroke-width="1.3" stroke-linecap="butt"/>
<line x1="925.1" y1="358.5" x2="961.7" y2="358.5" stroke="#000" stroke-width="1" stroke-linecap="butt"/>
<circle cx="833.6" cy="373.2" r="9.6" stroke="#000" stroke-width="1.1" fill="#fff"/>
<line x1="820.6" y1="373.5" x2="846.6" y2="373.5" stroke="#000" stroke-width="1" stroke-dasharray="6 2 1.5 2" stroke-linecap="butt"/>
<line x1="833.5" y1="360.7" x2="833.5" y2="385.7" stroke="#000" stroke-width="1" stroke-dasharray="6 2 1.5 2" stroke-linecap="butt"/>
<circle cx="833.6" cy="447.4" r="9.6" stroke="#000" stroke-width="1.1" fill="#fff"/>
<line x1="820.6" y1="447.5" x2="846.6" y2="447.5" stroke="#000" stroke-width="1" stroke-dasharray="6 2 1.5 2" stroke-linecap="butt"/>
<line x1="833.5" y1="434.9" x2="833.5" y2="459.9" stroke="#000" stroke-width="1" stroke-dasharray="6 2 1.5 2" stroke-linecap="butt"/>
<circle cx="907.6" cy="373.2" r="9.6" stroke="#000" stroke-width="1.1" fill="#fff"/>
<line x1="894.6" y1="373.5" x2="920.6" y2="373.5" stroke="#000" stroke-width="1" stroke-dasharray="6 2 1.5 2" stroke-linecap="butt"/>
<line x1="907.5" y1="360.7" x2="907.5" y2="385.7" stroke="#000" stroke-width="1" stroke-dasharray="6 2 1.5 2" stroke-linecap="butt"/>
<circle cx="907.6" cy="447.4" r="9.6" stroke="#000" stroke-width="1.1" fill="#fff"/>
<line x1="894.6" y1="447.5" x2="920.6" y2="447.5" stroke="#000" stroke-width="1" stroke-dasharray="6 2 1.5 2" stroke-linecap="butt"/>
<line x1="907.5" y1="434.9" x2="907.5" y2="459.9" stroke="#000" stroke-width="1" stroke-dasharray="6 2 1.5 2" stroke-linecap="butt"/>
<rect x="718.7" y="385.7" width="54.1" height="47.7" fill="#fff"/>
<rect x="808.8" y="390.4" width="47.2" height="38.6" fill="#fff"/>
<rect x="856" y="399" width="57.5" height="23" fill="#fff" stroke="#000" stroke-width="1.1"/>
<line x1="718.7" y1="385.5" x2="772.8" y2="385.5" stroke="#000" stroke-width="1.3" stroke-linecap="butt"/>
<line x1="718.7" y1="433.5" x2="772.8" y2="433.5" stroke="#000" stroke-width="1.3" stroke-linecap="butt"/>
<path d="M675,381.5 L678.5,378 L701,378 L704,381.5 L704,383.6 L718.7,383.6 L718.7,385.7 L760,385.7 L772.8,390.4 L772.8,395.8 L686,395.8 L686,425.6 L772.8,425.6 L772.8,429.5 L760,433.4 L718.7,433.4 L718.7,436.5 L704,436.5 L704,439 L701,442.4 L678.5,442.4 L675,439 Z" fill="url(#hatchB)" stroke="#000" stroke-width="1.3"/>
<line x1="704.5" y1="383.6" x2="704.5" y2="436.5" stroke="#000" stroke-width="1.2" stroke-linecap="butt"/>
<circle cx="690.5" cy="400.3" r="3.3" stroke="#000" stroke-width="1" fill="#fff"/>
<circle cx="691.7" cy="420.8" r="3.3" stroke="#000" stroke-width="1" fill="#fff"/>
<path d="M693.1,401.5 Q696.5,410.5 694.8,419.6" stroke="#000" stroke-width="1" fill="none" />
<path d="M688.1,401.5 Q688.5,410.5 689.9,419.6" stroke="#000" stroke-width="0.8" fill="none" />
<circle cx="699.25" cy="400.3" r="3.3" stroke="#000" stroke-width="1" fill="#fff"/>
<circle cx="700.45" cy="420.8" r="3.3" stroke="#000" stroke-width="1" fill="#fff"/>
<path d="M701.85,401.5 Q705.25,410.5 703.55,419.6" stroke="#000" stroke-width="1" fill="none" />
<path d="M696.85,401.5 Q697.25,410.5 698.65,419.6" stroke="#000" stroke-width="0.8" fill="none" />
<circle cx="708.0" cy="400.3" r="3.3" stroke="#000" stroke-width="1" fill="#fff"/>
<circle cx="709.2" cy="420.8" r="3.3" stroke="#000" stroke-width="1" fill="#fff"/>
<path d="M710.6,401.5 Q714.0,410.5 712.3,419.6" stroke="#000" stroke-width="1" fill="none" />
<path d="M705.6,401.5 Q706.0,410.5 707.4,419.6" stroke="#000" stroke-width="0.8" fill="none" />
<circle cx="716.75" cy="400.3" r="3.3" stroke="#000" stroke-width="1" fill="#fff"/>
<circle cx="717.95" cy="420.8" r="3.3" stroke="#000" stroke-width="1" fill="#fff"/>
<path d="M719.35,401.5 Q722.75,410.5 721.05,419.6" stroke="#000" stroke-width="1" fill="none" />
<path d="M714.35,401.5 Q714.75,410.5 716.15,419.6" stroke="#000" stroke-width="0.8" fill="none" />
<circle cx="725.5" cy="400.3" r="3.3" stroke="#000" stroke-width="1" fill="#fff"/>
<circle cx="726.7" cy="420.8" r="3.3" stroke="#000" stroke-width="1" fill="#fff"/>
<path d="M728.1,401.5 Q731.5,410.5 729.8,419.6" stroke="#000" stroke-width="1" fill="none" />
<path d="M723.1,401.5 Q723.5,410.5 724.9,419.6" stroke="#000" stroke-width="0.8" fill="none" />
<circle cx="734.25" cy="400.3" r="3.3" stroke="#000" stroke-width="1" fill="#fff"/>
<circle cx="735.45" cy="420.8" r="3.3" stroke="#000" stroke-width="1" fill="#fff"/>
<path d="M736.85,401.5 Q740.25,410.5 738.55,419.6" stroke="#000" stroke-width="1" fill="none" />
<path d="M731.85,401.5 Q732.25,410.5 733.65,419.6" stroke="#000" stroke-width="0.8" fill="none" />
<circle cx="743.0" cy="400.3" r="3.3" stroke="#000" stroke-width="1" fill="#fff"/>
<circle cx="744.2" cy="420.8" r="3.3" stroke="#000" stroke-width="1" fill="#fff"/>
<path d="M745.6,401.5 Q749.0,410.5 747.3,419.6" stroke="#000" stroke-width="1" fill="none" />
<path d="M740.6,401.5 Q741.0,410.5 742.4,419.6" stroke="#000" stroke-width="0.8" fill="none" />
<circle cx="751.75" cy="400.3" r="3.3" stroke="#000" stroke-width="1" fill="#fff"/>
<circle cx="752.95" cy="420.8" r="3.3" stroke="#000" stroke-width="1" fill="#fff"/>
<path d="M754.35,401.5 Q757.75,410.5 756.05,419.6" stroke="#000" stroke-width="1" fill="none" />
<path d="M749.35,401.5 Q749.75,410.5 751.15,419.6" stroke="#000" stroke-width="0.8" fill="none" />
<circle cx="760.5" cy="400.3" r="3.3" stroke="#000" stroke-width="1" fill="#fff"/>
<circle cx="761.7" cy="420.8" r="3.3" stroke="#000" stroke-width="1" fill="#fff"/>
<path d="M763.1,401.5 Q766.5,410.5 764.8,419.6" stroke="#000" stroke-width="1" fill="none" />
<path d="M758.1,401.5 Q758.5,410.5 759.9,419.6" stroke="#000" stroke-width="0.8" fill="none" />
<path d="M754.8,399.7 L772.8,399.7 L772.8,421.7 L754.8,421.7 L752,416 L752,405 Z" fill="url(#hatchB)" stroke="#000" stroke-width="1.1"/>
<rect x="735" y="407.8" width="20" height="4.4" fill="#fff" stroke="#000" stroke-width="0.9"/>
<rect x="772.8" y="389" width="36" height="44.4" fill="#fff"/>
<path d="M772.8,390.4 L800,390.4 L808.8,392.5 L808.8,399.4 L772.8,399.4 Z" fill="url(#hatchB)" stroke="#000" stroke-width="1.1"/>
<path d="M772.8,422.2 L808.8,422.2 L808.8,429 L800,431 L772.8,431 Z" fill="url(#hatchB)" stroke="#000" stroke-width="1.1"/>
<rect x="784" y="393" width="7" height="4" fill="#000"/><rect x="784" y="424.5" width="7" height="4" fill="#000"/>
<path d="M808.8,390.4 L856,390.4 L856,404.2 L816.5,404.2 L816.5,416.9 L856,416.9 L856,429 L808.8,429 Z" fill="url(#hatchB)" stroke="#000" stroke-width="1.1"/>
<rect x="826" y="392.5" width="28" height="10" fill="#fff" stroke="#000" stroke-width="0.9"/>
<rect x="826" y="418.5" width="28" height="9" fill="#fff" stroke="#000" stroke-width="0.9"/>
<line x1="829.5" y1="393" x2="829.5" y2="402" stroke="#000" stroke-width="0.9" stroke-linecap="butt"/>
<line x1="829.5" y1="419" x2="829.5" y2="427" stroke="#000" stroke-width="0.9" stroke-linecap="butt"/>
<line x1="831.5" y1="393" x2="831.5" y2="402" stroke="#000" stroke-width="0.9" stroke-linecap="butt"/>
<line x1="831.5" y1="419" x2="831.5" y2="427" stroke="#000" stroke-width="0.9" stroke-linecap="butt"/>
<line x1="834.5" y1="393" x2="834.5" y2="402" stroke="#000" stroke-width="0.9" stroke-linecap="butt"/>
<line x1="834.5" y1="419" x2="834.5" y2="427" stroke="#000" stroke-width="0.9" stroke-linecap="butt"/>
<line x1="836.5" y1="393" x2="836.5" y2="402" stroke="#000" stroke-width="0.9" stroke-linecap="butt"/>
<line x1="836.5" y1="419" x2="836.5" y2="427" stroke="#000" stroke-width="0.9" stroke-linecap="butt"/>
<circle cx="843" cy="397.5" r="1.6" stroke="#000" stroke-width="0.9" fill="none"/>
<circle cx="848" cy="397.5" r="1.6" stroke="#000" stroke-width="0.9" fill="none"/>
<circle cx="843" cy="423" r="1.6" stroke="#000" stroke-width="0.9" fill="none"/>
<circle cx="848" cy="423" r="1.6" stroke="#000" stroke-width="0.9" fill="none"/>
<rect x="819" y="392" width="3" height="3" fill="#000"/><rect x="819" y="425" width="3" height="3" fill="#000"/>
<path d="M772.8,399 L800,399 L808.8,404.2 L881.4,404.2 L881.4,400.4 L913.2,400.4 L913.2,420 L881.4,420 L881.4,416.9 L808.8,416.9 L800,422.4 L772.8,422.4 Z" fill="url(#hatchA)" stroke="#000" stroke-width="1.2"/>
<rect x="893" y="402" width="3.5" height="4" fill="#000"/><rect x="893" y="414.5" width="3.5" height="4" fill="#000"/>
<rect x="905" y="406" width="8.20" height="8.50" stroke="#000" stroke-width="0.9" fill="none"/>
<path d="M860,404 Q870,396 880,404 M860,417 Q870,425 880,417" stroke="#000" stroke-width="1" fill="none" />
<path d="M657,389 L660,384.8 L670,384.8 L673,389 L673,432 L670,436.2 L660,436.2 L657,432 Z" fill="url(#hatchB)" stroke="#000" stroke-width="1.2"/>
<path d="M647.5,394.7 L686,394.7 L686,426 L647.5,426 Z" fill="url(#hatchB)" stroke="#000" stroke-width="1"/>
<rect x="652.8" y="402.7" width="13.6" height="15.7" fill="#fff" stroke="#000" stroke-width="1.2"/>
<line x1="653" y1="406.5" x2="666" y2="406.5" stroke="#000" stroke-width="0.9" stroke-linecap="butt"/>
<line x1="653" y1="410.5" x2="666" y2="410.5" stroke="#000" stroke-width="0.9" stroke-linecap="butt"/>
<line x1="653" y1="415.5" x2="666" y2="415.5" stroke="#000" stroke-width="0.9" stroke-linecap="butt"/>
<rect x="666.4" y="404.5" width="6" height="12" fill="#fff" stroke="#000" stroke-width="1"/>
<rect x="672.4" y="409" width="16" height="3" fill="#fff" stroke="#000" stroke-width="0.8"/>
<circle cx="721.8" cy="387.2" r="1.7" stroke="#000" stroke-width="0.8" fill="#000"/>
<circle cx="721.8" cy="433.2" r="1.7" stroke="#000" stroke-width="0.8" fill="#000"/>
<circle cx="767.7" cy="391" r="1.7" stroke="#000" stroke-width="0.8" fill="#000"/>
<circle cx="767.7" cy="430.2" r="1.7" stroke="#000" stroke-width="0.8" fill="#000"/>
<path d="M636,388.3 L645,388.3 L647.8,391 L647.8,430 L645,432.8 L636,432.8 L633.4,429 L633.4,392 Z" fill="#fff" stroke="#000" stroke-width="1.2"/>
<rect x="637.5" y="399.4" width="4.90" height="21.90" stroke="#000" stroke-width="1" fill="none"/>
<rect x="647.4" y="393.6" width="3.3" height="33.8" fill="#fff" stroke="#000" stroke-width="1.1"/>
<path d="M643,392 L651,385 M643,429 L651,436" stroke="#000" stroke-width="0.9" fill="none" />
<circle cx="640" cy="392.4" r="2.8" stroke="#000" stroke-width="0" fill="#000"/>
<circle cx="640" cy="427.9" r="2.8" stroke="#000" stroke-width="0" fill="#000"/>
<rect x="925.1" y="397.4" width="36.6" height="24.9" fill="#fff"/>
<circle cx="944.6" cy="410" r="10" stroke="#000" stroke-width="1" fill="#fff"/>
<rect x="913.2" y="403.5" width="48.5" height="13.5" fill="#fff"/>
<line x1="913.2" y1="403.5" x2="956" y2="403.5" stroke="#000" stroke-width="1.2" stroke-linecap="butt"/>
<line x1="913.2" y1="417.5" x2="956" y2="417.5" stroke="#000" stroke-width="1.2" stroke-linecap="butt"/>
<line x1="925.1" y1="397.5" x2="961.7" y2="397.5" stroke="#000" stroke-width="1.2" stroke-linecap="butt"/>
<line x1="925.1" y1="422.5" x2="961.7" y2="422.5" stroke="#000" stroke-width="1.2" stroke-linecap="butt"/>
<rect x="924.7" y="405.2" width="22" height="9.3" fill="url(#hatchV)" stroke="#000" stroke-width="1"/>
<path d="M946.7,405.6 L956,408 L956,412 L946.7,414.2 Z" stroke="#000" stroke-width="0.8" fill="#000" />
<path d="M956.4,397.6 L980,397.6 L980,395.3 L990,395.3 L993.3,399 L993.3,403.5 L956.4,403.5 Z" fill="url(#hatchB)" stroke="#000" stroke-width="1"/>
<path d="M956.4,417.6 L993.3,417.6 L993.3,422 L990,424.6 L956.4,424.6 Z" fill="url(#hatchB)" stroke="#000" stroke-width="1"/>
<path d="M954,403.5 L1002,403.5 L1002,399.4 L1010,399.4 Q1012.7,400 1012.7,403 L1012.7,418 Q1012.7,421 1010,421.1 L1002,421.1 L1002,417.6 L954,417.6 Z" fill="url(#hatchB)" stroke="#000" stroke-width="1.3"/>
<rect x="864.6" y="421.5" width="9.8" height="10" fill="#fff" stroke="#000" stroke-width="1"/>
<path d="M859.2,466 L859.2,434 L862,431.1 L878.3,431.1 L881.1,434 L881.1,466 Z" fill="#fff" stroke="#000" stroke-width="1.2"/>
<line x1="859.2" y1="441.4" x2="881.1" y2="441.4" stroke="#000" stroke-width="1.8" stroke-linecap="butt"/>
<path d="M860.5,443 L879.8,443 L879.8,466 L860.5,466 Z" fill="url(#hatchB)" stroke="#000" stroke-width="0.9"/>
<path d="M852.1,466 L852.1,471.5 Q852.1,474.5 855,474.5 L884.5,474.5 Q887.4,474.5 887.4,471.5 L887.4,466 Z" fill="url(#hatchB)" stroke="#000" stroke-width="1.1"/>
<rect x="864.6" y="455.2" width="11.2" height="5.4" fill="#fff" stroke="#000" stroke-width="1"/>
<rect x="864.6" y="460.6" width="11.2" height="13.9" fill="url(#hatchV)" stroke="#000" stroke-width="1"/>
<circle cx="856.5" cy="466.3" r="1.6" stroke="#000" stroke-width="0" fill="#000"/>
<circle cx="883.8" cy="466.3" r="1.6" stroke="#000" stroke-width="0" fill="#000"/>
<line x1="628" y1="410.5" x2="1018" y2="410.5" stroke="#000" stroke-width="0.8" stroke-dasharray="10 2 2 2" stroke-linecap="butt"/>
<line x1="790.5" y1="350" x2="790.5" y2="470" stroke="#000" stroke-width="1" stroke-dasharray="12 2.5 2.5 2.5" stroke-linecap="butt"/>
<line x1="943.5" y1="350" x2="943.5" y2="470" stroke="#000" stroke-width="1" stroke-dasharray="12 2.5 2.5 2.5" stroke-linecap="butt"/>
<line x1="870.5" y1="385" x2="870.5" y2="478" stroke="#000" stroke-width="1" stroke-dasharray="12 2.5 2.5 2.5" stroke-linecap="butt"/>
<text x="780.72" y="343.50" font-size="23.92" textLength="22.51" lengthAdjust="spacingAndGlyphs" fill="#000" >V2</text>
<text x="934.32" y="345.40" font-size="24.13" textLength="21.43" lengthAdjust="spacingAndGlyphs" fill="#000" >V1</text>
<text x="780.72" y="491.50" font-size="22.91" textLength="22.51" lengthAdjust="spacingAndGlyphs" fill="#000" >V2</text>
<text x="861.77" y="497.40" font-size="23.26" textLength="17.56" lengthAdjust="spacingAndGlyphs" fill="#000" >M</text>
<text x="935.33" y="491.50" font-size="23.26" textLength="20.39" lengthAdjust="spacingAndGlyphs" fill="#000" >V1</text>
<text x="957.72" y="401.00" font-size="23.49" textLength="22.12" lengthAdjust="spacingAndGlyphs" fill="#000" >C1</text>
<mask id="lm" maskUnits="userSpaceOnUse" x="530" y="30" width="100" height="100"><rect x="530" y="30" width="100" height="100" fill="#fff"/><path d="M558.2,93.2 A26.5 26.5 0 0 1 589.1,55.4 L582.2,63.0 L589.8,82.2 L604.2,66.4 A26.5 26.5 0 0 1 571.9,105.6 L579,130 L556,124 L578.1,96.0 L571.2,75.4 Z" fill="#000"/></mask>
<circle cx="581" cy="80" r="44" fill="url(#lg)" opacity="0.7" mask="url(#lm)"/>
<path d="M647.82,54.85 L673.16,53.82" stroke="#6b6969" stroke-width="2.8" fill="none" stroke-linecap="round" stroke-linejoin="round"/>
<path d="M652.27,57.59 L652.96,59.78" stroke="#6b6969" stroke-width="2.8" fill="none" stroke-linecap="round" stroke-linejoin="round"/>
<path d="M660.84,57.59 L661.18,59.78" stroke="#6b6969" stroke-width="2.8" fill="none" stroke-linecap="round" stroke-linejoin="round"/>
<path d="M669.05,57.25 L668.37,59.78" stroke="#6b6969" stroke-width="2.8" fill="none" stroke-linecap="round" stroke-linejoin="round"/>
<path d="M647.82,67.86 L647.48,62.04 L673.85,62.04 L673.51,67.86" stroke="#6b6969" stroke-width="2.8" fill="none" stroke-linecap="round" stroke-linejoin="round"/>
<path d="M647.82,68.21 L673.51,68.21" stroke="#6b6969" stroke-width="2.8" fill="none" stroke-linecap="round" stroke-linejoin="round"/>
<path d="M655.70,68.55 L652.27,75.40 L646.11,80.88" stroke="#6b6969" stroke-width="2.8" fill="none" stroke-linecap="round" stroke-linejoin="round"/>
<path d="M655.01,72.32 L670.77,72.32 L665.29,77.45 L652.27,81.22" stroke="#6b6969" stroke-width="2.8" fill="none" stroke-linecap="round" stroke-linejoin="round"/>
<path d="M657.07,75.40 L662.55,78.82 L674.19,81.56" stroke="#6b6969" stroke-width="2.8" fill="none" stroke-linecap="round" stroke-linejoin="round"/>
<path d="M680.70,54.51 L684.81,57.25" stroke="#6b6969" stroke-width="2.8" fill="none" stroke-linecap="round" stroke-linejoin="round"/>
<path d="M680.36,62.04 L683.78,65.12" stroke="#6b6969" stroke-width="2.8" fill="none" stroke-linecap="round" stroke-linejoin="round"/>
<path d="M680.01,80.19 L684.47,69.92" stroke="#6b6969" stroke-width="2.8" fill="none" stroke-linecap="round" stroke-linejoin="round"/>
<path d="M687.55,54.51 L706.04,54.51 L698.16,60.33 L687.55,66.15" stroke="#6b6969" stroke-width="2.8" fill="none" stroke-linecap="round" stroke-linejoin="round"/>
<path d="M689.95,56.22 L698.16,61.70 L707.75,65.95" stroke="#6b6969" stroke-width="2.8" fill="none" stroke-linecap="round" stroke-linejoin="round"/>
<path d="M687.55,70.95 L706.38,70.95" stroke="#6b6969" stroke-width="2.8" fill="none" stroke-linecap="round" stroke-linejoin="round"/>
<path d="M686.86,76.90 L707.75,76.90" stroke="#6b6969" stroke-width="2.8" fill="none" stroke-linecap="round" stroke-linejoin="round"/>
<path d="M697.48,67.18 L697.48,81.56" stroke="#6b6969" stroke-width="2.8" fill="none" stroke-linecap="round" stroke-linejoin="round"/>
<path d="M713.89,56.27 L739.41,56.27" stroke="#6b6969" stroke-width="2.8" fill="none" stroke-linecap="round" stroke-linejoin="round"/>
<path d="M726.58,56.27 L726.58,79.13" stroke="#6b6969" stroke-width="2.8" fill="none" stroke-linecap="round" stroke-linejoin="round"/>
<path d="M712.80,79.44 L740.20,79.44" stroke="#6b6969" stroke-width="2.8" fill="none" stroke-linecap="round" stroke-linejoin="round"/>
<path d="M756.63,53.61 L756.63,79.76" stroke="#6b6969" stroke-width="2.8" fill="none" stroke-linecap="round" stroke-linejoin="round"/>
<path d="M763.68,53.61 L763.68,79.76" stroke="#6b6969" stroke-width="2.8" fill="none" stroke-linecap="round" stroke-linejoin="round"/>
<path d="M748.02,58.31 L752.41,73.18" stroke="#6b6969" stroke-width="2.8" fill="none" stroke-linecap="round" stroke-linejoin="round"/>
<path d="M773.86,57.52 L768.69,73.18" stroke="#6b6969" stroke-width="2.8" fill="none" stroke-linecap="round" stroke-linejoin="round"/>
<path d="M745.21,80.23 L774.95,80.23" stroke="#6b6969" stroke-width="2.8" fill="none" stroke-linecap="round" stroke-linejoin="round"/>
<text x="643.73" y="106.80" font-size="21.20" textLength="151.35" lengthAdjust="spacingAndGlyphs" fill="#7b7979" font-weight="normal" stroke="#fff" stroke-width="0.35">IZE INDUSTRIES</text></svg></body></html>
